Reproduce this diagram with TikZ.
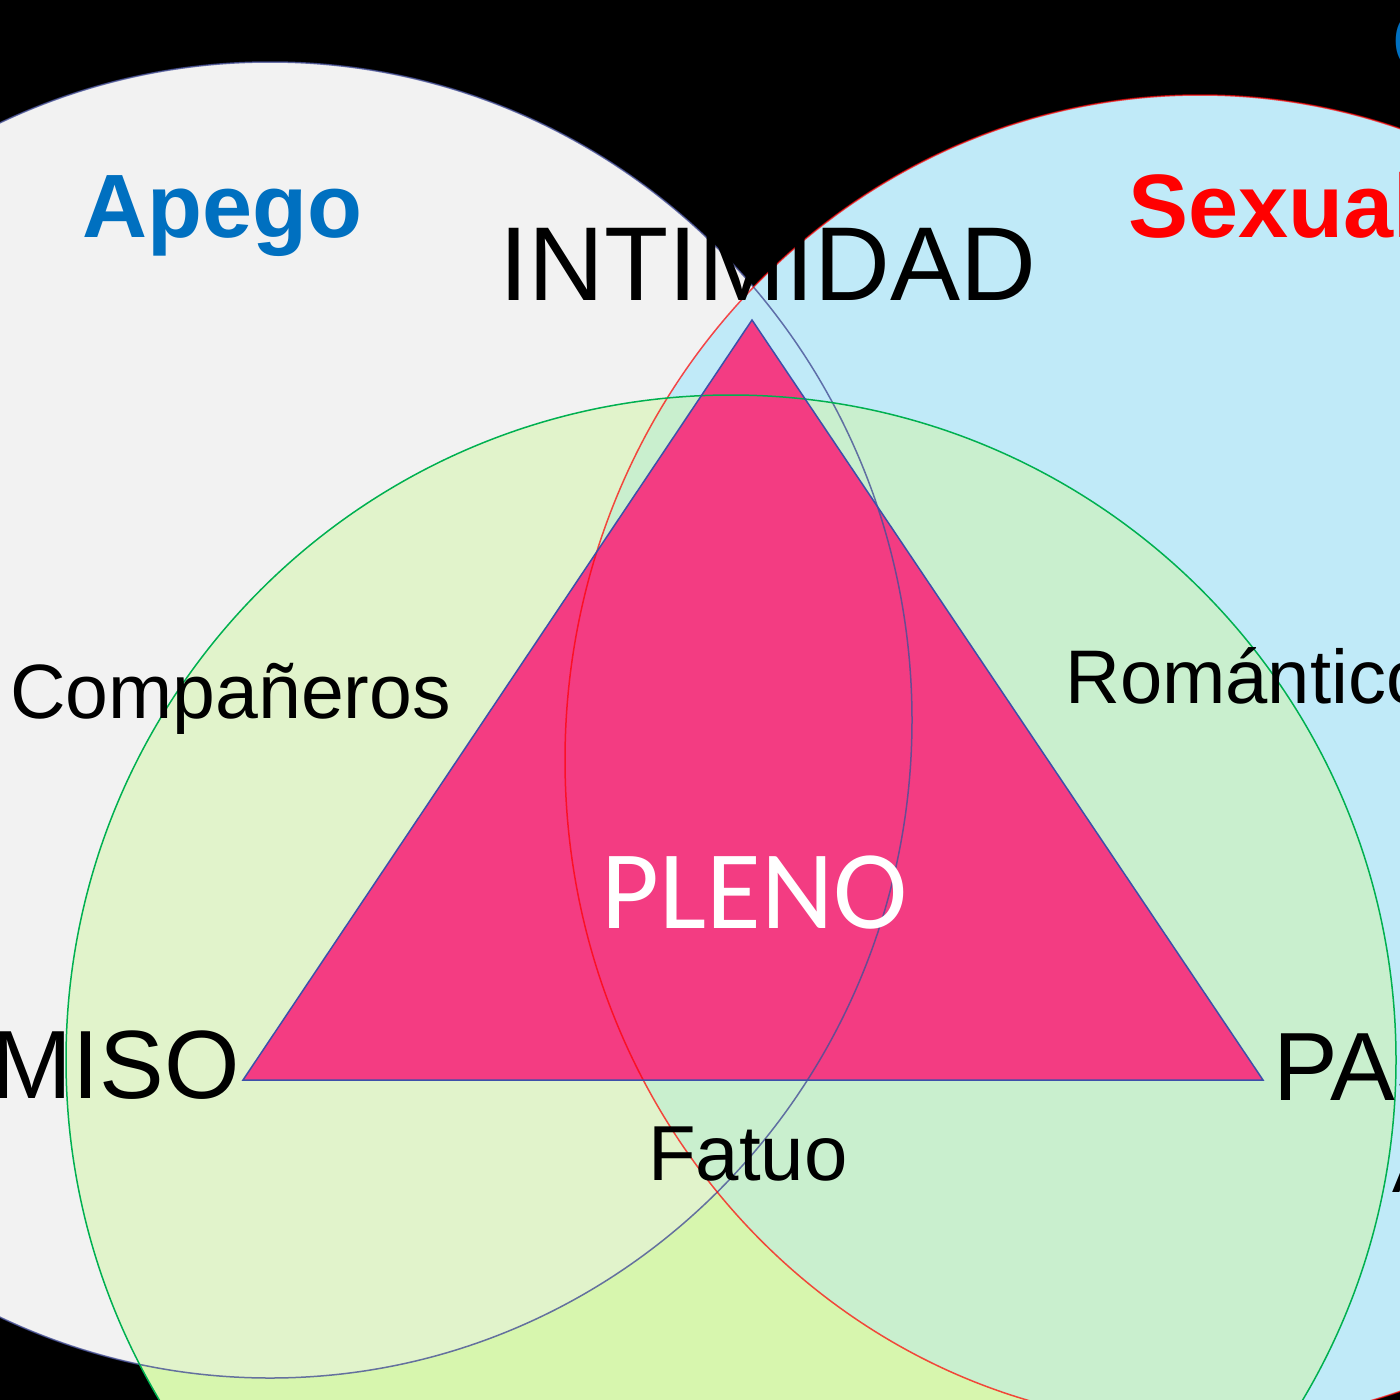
\documentclass[tikz,border=0pt]{standalone}
\usepackage{fontspec}
\setmainfont{Liberation Sans}
\newfontfamily\calib{Carlito}
\begin{document}
\begin{tikzpicture}[x=1pt,y=-1pt,
  lbl/.style={inner sep=0pt,text=black}]
\definecolor{apegoblue}{RGB}{0,112,192}
\definecolor{greyfill}{RGB}{242,242,242}
\definecolor{bluefill}{RGB}{192,234,248}
\definecolor{greenfill}{RGB}{210,245,165}
\definecolor{greenbase}{RGB}{221,248,184}
\definecolor{greyline}{RGB}{70,80,150}
\definecolor{pink}{RGB}{245,55,128}
\definecolor{triline}{RGB}{60,80,170}
\definecolor{greenline}{RGB}{0,176,80}
\fill[black] (0,0) rectangle (1400,1400);
\useasboundingbox (0,0) rectangle (1400,1400);
\begin{scope}
\clip (0,0) rectangle (1400,1400);
\fill[greenbase] (731,1060) circle (665);
\fill[greyfill] (270,720) ellipse [x radius=642, y radius=658];
\fill[bluefill] (1200,760) ellipse [x radius=635, y radius=665];
\fill[greenfill,opacity=0.5] (731,1060) circle (665);
\fill[pink,opacity=0.97] (752,320) -- (243,1080) -- (1263,1080) -- cycle;
\draw[greyline,line width=1.5,opacity=0.8] (270,720) ellipse [x radius=642, y radius=658];
\draw[red,line width=1.5,opacity=0.7] (1200,760) ellipse [x radius=635, y radius=665];
\draw[greenline,line width=1.5] (731,1060) circle (665);
\draw[triline,line width=1.5] (752,320) -- (243,1080) -- (1263,1080) -- cycle;
\node[lbl,anchor=base west,text=apegoblue,font=\fontsize{90}{90}\selectfont\bfseries] (apego) at (82,237) {Apego};
\node[lbl,anchor=base west,text=red,font=\fontsize{90}{90}\selectfont\bfseries] (sex) at (1128,237) {Sexual};
\node[lbl,anchor=base west,text=apegoblue,font=\fontsize{90}{90}\selectfont\bfseries] (c) at (1392,72) {C};
\node[lbl,anchor=base,font=\fontsize{105}{105}\selectfont] (int) at (768,300) {INTIMIDAD};
\node[lbl,anchor=base west,font=\fontsize{77}{77}\selectfont] (comp) at (10,718) {Compañeros};
\node[lbl,anchor=base west,font=\fontsize{76}{76}\selectfont] (rom) at (1065,703) {Romántico};
\node[lbl,anchor=base,text=white,font=\fontsize{112}{112}\calib] (pleno) at (755,928) {PLENO};
\node[lbl,anchor=base east,font=\fontsize{97}{97}\selectfont] (com) at (240,1098) {COMPROMISO};
\node[lbl,anchor=base west,font=\fontsize{97}{97}\selectfont] (pas) at (1273,1100) {PASIÓN};
\node[lbl,anchor=base,font=\fontsize{78}{78}\selectfont] (fat) at (748,1180) {Fatuo};
\node[lbl,anchor=base west,font=\fontsize{74}{74}\selectfont] (a) at (1392,1192) {A};
\end{scope}
\end{tikzpicture}
\end{document}
